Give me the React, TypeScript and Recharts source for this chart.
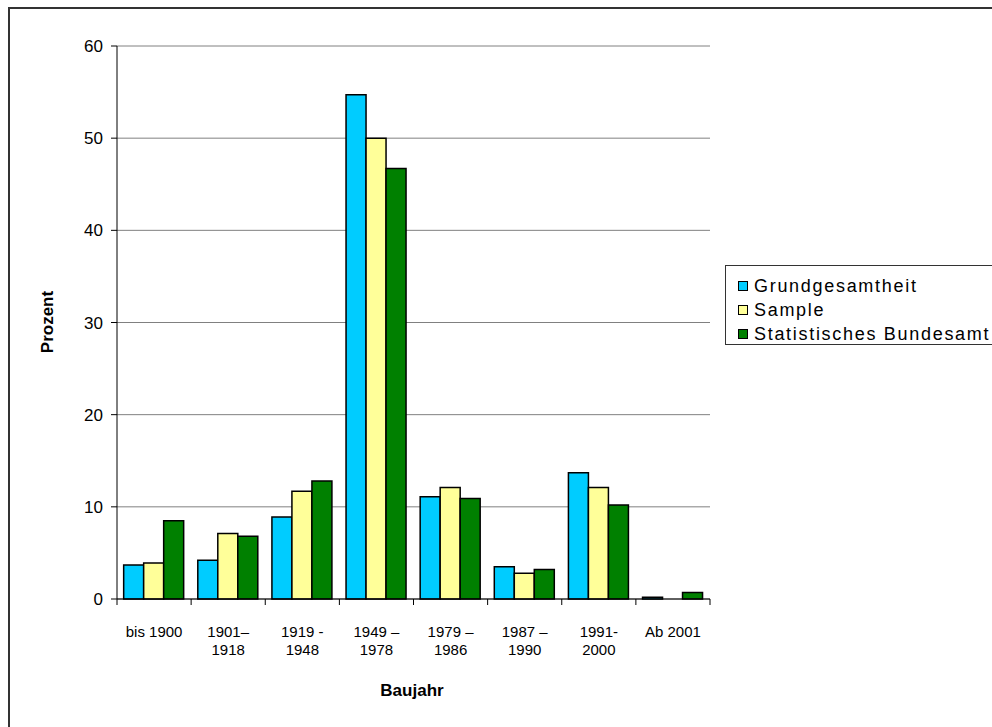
import { BarChart, Bar, XAxis, YAxis, CartesianGrid, Legend, Customized } from 'recharts';

const categories = [
  'bis 1900',
  '1901–\n1918',
  '1919 -\n1948',
  '1949 –\n1978',
  '1979 –\n1986',
  '1987 –\n1990',
  '1991-\n2000',
  'Ab 2001',
];
const grundgesamtheit = [3.7, 4.2, 8.9, 54.7, 11.1, 3.5, 13.7, 0.2];
const sample = [3.9, 7.1, 11.7, 50.0, 12.1, 2.8, 12.1, 0];
const bundesamt = [8.5, 6.8, 12.8, 46.7, 10.9, 3.2, 10.2, 0.7];
const yTicks = [0, 10, 20, 30, 40, 50, 60];

const series = [
  { key: 'grund', name: 'Grundgesamtheit', color: '#00CCFF' },
  { key: 'sample', name: 'Sample', color: '#FFFF99' },
  { key: 'bund', name: 'Statistisches Bundesamt', color: '#008000' },
];

const data = categories.map((cat, i) => ({
  cat,
  grund: grundgesamtheit[i],
  sample: sample[i],
  bund: bundesamt[i],
}));

const FONT = '"Liberation Sans", Arial, sans-serif';
const W = 992;
const H = 727;
const margin = { top: 46, right: 282, bottom: 68, left: 0 };
const band = (W - margin.right - 117) / categories.length;

const CategoryTick = (props: any) => {
  const { x, y, payload, index } = props;
  const lines = String(payload.value).split('\n');
  return (
    <g>
      <line x1={x - band / 2} x2={x - band / 2} y1={y} y2={y + 6} stroke="#000" />
      {index === categories.length - 1 && (
        <line x1={x + band / 2} x2={x + band / 2} y1={y} y2={y + 6} stroke="#000" />
      )}
      <text x={x} y={y} textAnchor="middle" fontSize={15} fill="#000" fontFamily={FONT}>
        {lines.map((l, i) => (
          <tspan key={i} x={x} dy={i === 0 ? 38 : 18}>
            {l}
          </tspan>
        ))}
      </text>
    </g>
  );
};

const LegendBox = () => (
  <div
    style={{
      border: '1px solid #333',
      background: '#fff',
      width: 320,
      height: 80,
      boxSizing: 'border-box',
      padding: '8px 0 0 12px',
      fontFamily: FONT,
      fontSize: 18,
      color: '#000',
    }}
  >
    {series.map((s) => (
      <div key={s.key} style={{ display: 'flex', alignItems: 'center', height: 24 }}>
        <span
          style={{
            display: 'inline-block',
            width: 8,
            height: 8,
            background: s.color,
            border: '1.5px solid #000',
            marginRight: 6,
          }}
        />
        <span style={{ letterSpacing: 1.7, whiteSpace: 'nowrap' }}>{s.name}</span>
      </div>
    ))}
  </div>
);

const AxisTitles = () => (
  <g fontFamily={FONT} fontWeight="bold" fontSize={17} fill="#000">
    <text x={53} y={322} textAnchor="middle" transform="rotate(-90 53 322)">
      Prozent
    </text>
    <text x={412} y={696} textAnchor="middle">
      Baujahr
    </text>
  </g>
);

export default function App() {
  return (
    <div
      style={{
        position: 'absolute',
        left: 0,
        top: 0,
        width: W,
        height: H,
        overflow: 'hidden',
        background: '#fff',
        fontFamily: FONT,
      }}
    >
      <div
        style={{
          position: 'absolute',
          left: 8,
          top: 7,
          width: 1100,
          height: 900,
          border: '2px solid #333',
        }}
      />
      <div style={{ position: 'absolute', left: 0, top: 0 }}>
        <BarChart
          width={W}
          height={H}
          data={data}
          margin={margin}
          barCategoryGap="9%"
          barGap={0}
        >
          <CartesianGrid vertical={false} stroke="#808080" strokeWidth={1} />
          <XAxis
            dataKey="cat"
            height={60}
            interval={0}
            tickSize={0}
            tickMargin={0}
            tickLine={false}
            axisLine={{ stroke: '#000' }}
            tick={<CategoryTick />}
          />
          <YAxis
            width={117}
            domain={[0, 60]}
            ticks={yTicks}
            interval={0}
            tickSize={6}
            tickMargin={8}
            axisLine={{ stroke: '#000' }}
            tickLine={{ stroke: '#000' }}
            tick={{ fill: '#000', fontSize: 17, fontFamily: FONT }}
          />
          <YAxis
            yAxisId="frame"
            orientation="right"
            width={0}
            domain={[0, 60]}
            tick={false}
            tickLine={false}
            axisLine={{ stroke: '#808080' }}
          />
          <Legend
            layout="vertical"
            align="center"
            verticalAlign="middle"
            content={<LegendBox />}
            wrapperStyle={{ left: 725, top: 265, width: 'auto' }}
          />
          {series.map((s) => (
            <Bar
              key={s.key}
              dataKey={s.key}
              name={s.name}
              fill={s.color}
              stroke="#000"
              strokeWidth={1.5}
              isAnimationActive={false}
            />
          ))}
          <Customized component={AxisTitles} />
        </BarChart>
      </div>
    </div>
  );
}
